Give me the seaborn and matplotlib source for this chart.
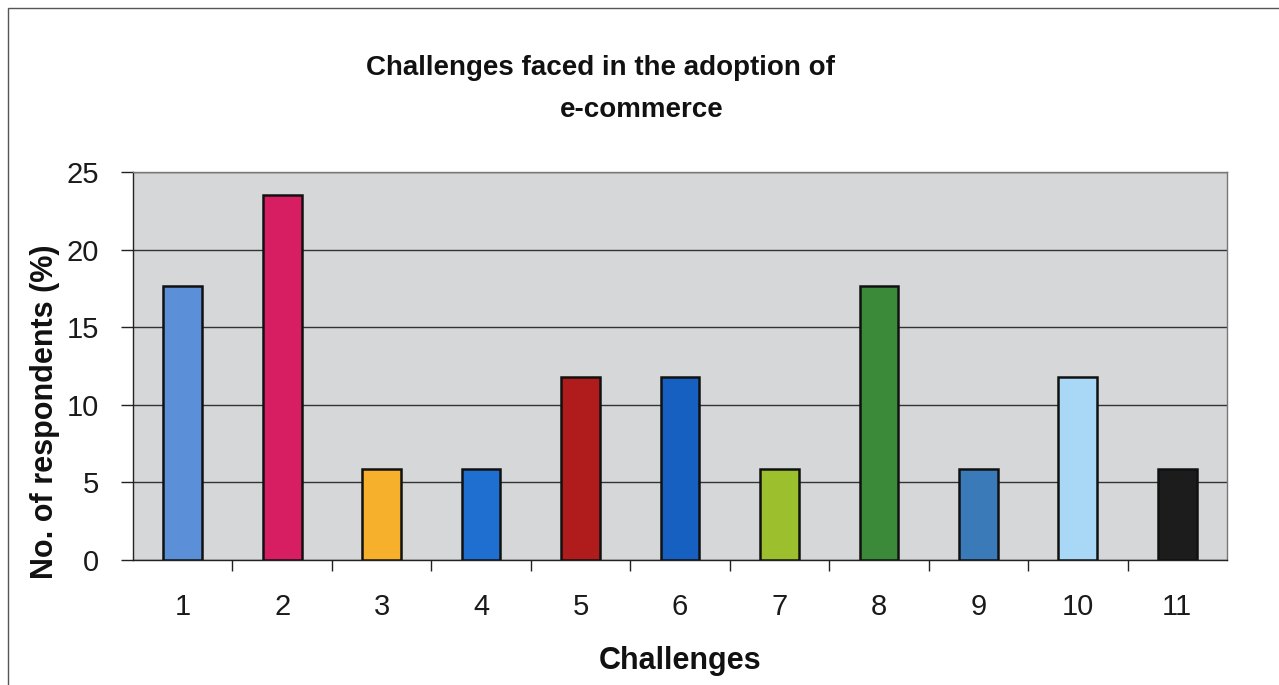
import matplotlib
matplotlib.use("Agg")
import matplotlib.pyplot as plt
import seaborn as sns
import pandas as pd
from matplotlib.patches import Rectangle

categories = ["1", "2", "3", "4", "5", "6", "7", "8", "9", "10", "11"]
values = [17.65, 23.53, 5.88, 5.88, 11.76, 11.76, 5.88, 17.65, 5.88, 11.76, 5.88]
colors = ["#5b8fd8", "#d81e63", "#f6b02c", "#1e6fd0", "#b01c1c", "#1560c0",
          "#9cbf2e", "#3a8a3a", "#3a7ab8", "#a8d8f5", "#1c1c1c"]
yticks = [0, 5, 10, 15, 20, 25]

sns.set_style("white")
plt.rcParams['font.family'] = ['Liberation Sans', 'DejaVu Sans']

df = pd.DataFrame({"Challenge": categories, "Value": values})

fig = plt.figure(figsize=(12.79, 6.85), dpi=100)
ax = fig.add_axes([133/1279, 1-560/685, (1227-133)/1279, (560-172)/685])
ax.set_facecolor("#d5d7d9")

sns.barplot(data=df, x="Challenge", y="Value", hue="Challenge", palette=colors,
            saturation=1, legend=False, width=0.39, edgecolor="#111111",
            linewidth=1.8, ax=ax, zorder=3)

ax.set_xlim(-0.5, 10.5)
ax.set_ylim(0, 25)
ax.set_yticks(yticks)
ax.yaxis.grid(True, color="#333333", linewidth=1.0, zorder=1)
ax.set_axisbelow(True)
for s in ["top", "right"]:
    ax.spines[s].set_color("#777777")
    ax.spines[s].set_linewidth(1.0)
for s in ["left", "bottom"]:
    ax.spines[s].set_color("#222222")
    ax.spines[s].set_linewidth(1.0)

ax.tick_params(axis="y", direction="out", length=8.5, width=1, color="#222222",
               labelsize=21, pad=16, left=True, labelcolor="#1a1a1a")
ax.tick_params(axis="x", which="major", length=0, labelsize=21, pad=24,
               labelcolor="#1a1a1a")
ax.set_xticks([i + 0.5 for i in range(10)], minor=True)
ax.tick_params(axis="x", which="minor", direction="out", length=8, width=1,
               color="#222222", bottom=True)

ax.set_xlabel("")
ax.set_ylabel("")

fig.text(600/1279, 1-68/685, "Challenges faced in the adoption of",
         ha="center", va="center", fontsize=20, fontweight="bold", color="#111111")
fig.text(642/1279, 1-110/685, "e-commerce",
         ha="center", va="center", fontsize=20, fontweight="bold", color="#111111")
fig.text(45/1279, 1-412/685, "No. of respondents (%)", rotation=90,
         ha="center", va="center", fontsize=22, fontweight="bold", color="#111111")
fig.text(680/1279, 1-661/685, "Challenges", ha="center", va="center",
         fontsize=22, fontweight="bold", color="#111111")

fig.patches.append(Rectangle((8/1279, -0.02), (1279-8)/1279 + 0.02, 1 - 8/685 + 0.02,
                             transform=fig.transFigure, fill=False,
                             edgecolor="#555555", linewidth=1.0))

fig.savefig("out.png", dpi=100, facecolor="white")
